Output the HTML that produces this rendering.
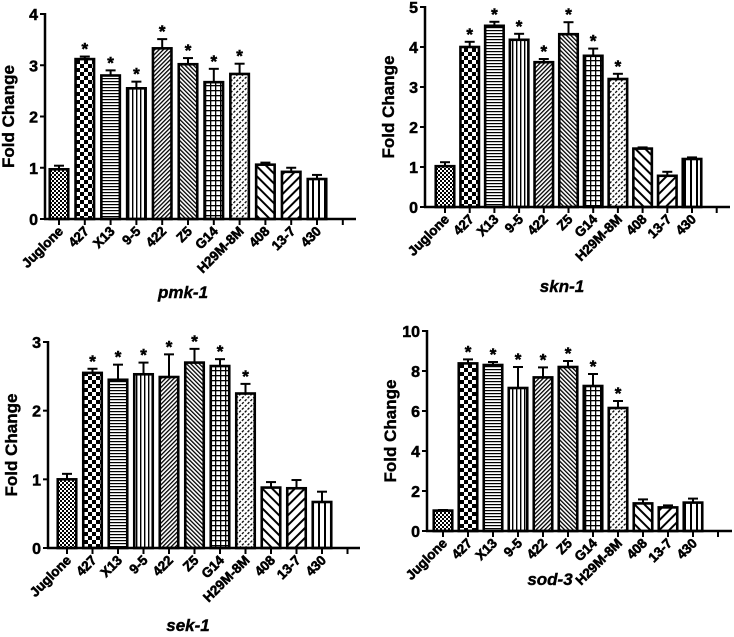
<!DOCTYPE html>
<html><head><meta charset="utf-8">
<style>
html,body{margin:0;padding:0;background:#fff;}
svg{display:block;font-family:"Liberation Sans",Arial,sans-serif;}
svg text{font-weight:bold;}
</style></head>
<body>
<svg id="fig" width="734" height="637" viewBox="0 0 734 637" xmlns="http://www.w3.org/2000/svg">
<defs>
<pattern id="p0" width="4" height="4" patternUnits="userSpaceOnUse"><rect width="4" height="4" fill="#fff"/><rect width="2" height="2" fill="#000"/><rect x="2" y="2" width="2" height="2" fill="#000"/></pattern>
<pattern id="p1" width="8" height="8" patternUnits="userSpaceOnUse"><rect width="8" height="8" fill="#fff"/><rect width="4" height="4" fill="#000"/><rect x="4" y="4" width="4" height="4" fill="#000"/></pattern>
<pattern id="p2" width="4" height="3" patternUnits="userSpaceOnUse"><rect width="4" height="3" fill="#fff"/><rect width="4" height="1.2" fill="#000"/></pattern>
<pattern id="p3" width="4" height="4" patternUnits="userSpaceOnUse"><rect width="4" height="4" fill="#fff"/><rect width="1.4" height="4" fill="#000"/></pattern>
<pattern id="p4" width="3" height="3" patternUnits="userSpaceOnUse" patternTransform="rotate(45)"><rect width="3" height="3" fill="#fff"/><rect width="1.3" height="3" fill="#000"/></pattern>
<pattern id="p5" width="3" height="3" patternUnits="userSpaceOnUse" patternTransform="rotate(-45)"><rect width="3" height="3" fill="#fff"/><rect width="1.3" height="3" fill="#000"/></pattern>
<pattern id="p6" width="5" height="5" patternUnits="userSpaceOnUse"><rect width="5" height="5" fill="#fff"/><rect width="5" height="1.3" fill="#000"/><rect width="1.3" height="5" fill="#000"/></pattern>
<pattern id="p7" width="4" height="4" patternUnits="userSpaceOnUse" patternTransform="rotate(45)"><rect width="4" height="4" fill="#fff"/><rect width="1.3" height="2.5" fill="#000"/></pattern>
<pattern id="p8" width="7" height="7" patternUnits="userSpaceOnUse" patternTransform="rotate(-45)"><rect width="7" height="7" fill="#fff"/><rect width="2" height="7" fill="#000"/></pattern>
<pattern id="p9" width="7" height="7" patternUnits="userSpaceOnUse" patternTransform="rotate(45)"><rect width="7" height="7" fill="#fff"/><rect width="2" height="7" fill="#000"/></pattern>
<pattern id="p10" width="6" height="6" patternUnits="userSpaceOnUse"><rect width="6" height="6" fill="#fff"/><rect width="2" height="6" fill="#000"/></pattern>
</defs>
</svg>
<script>
const categories = ["Juglone","427","X13","9-5","422","Z5","G14","H29M-8M","408","13-7","430"];
const stars = [0,1,1,1,1,1,1,1,0,0,0];
const pmkValues = [0.97,3.12,2.8,2.55,3.33,3.02,2.67,2.83,1.06,0.92,0.78];
const pmkErrors = [0.07,0.05,0.1,0.13,0.18,0.12,0.26,0.2,0.04,0.08,0.08];
const pmkTicks = [0,1,2,3,4];
const sknValues = [1.02,4.0,4.53,4.18,3.62,4.32,3.78,3.2,1.46,0.78,1.2];
const sknErrors = [0.1,0.13,0.1,0.15,0.08,0.3,0.18,0.13,0.03,0.1,0.04];
const sknTicks = [0,1,2,3,4,5];
const sekValues = [1.0,2.55,2.45,2.53,2.49,2.7,2.65,2.25,0.88,0.87,0.67];
const sekErrors = [0.08,0.06,0.22,0.17,0.33,0.2,0.1,0.14,0.08,0.12,0.15];
const sekTicks = [0,1,2,3];
const sodValues = [1.02,8.38,8.3,7.15,7.68,8.2,7.25,6.15,1.38,1.18,1.42];
const sodErrors = [0.03,0.2,0.15,1.05,0.5,0.3,0.6,0.35,0.2,0.1,0.2];
const sodTicks = [0,2,4,6,8,10];

const NS="http://www.w3.org/2000/svg";
const svg=document.getElementById('fig');
function mk(tag,attrs,parent){const e=document.createElementNS(NS,tag);for(const k in attrs)e.setAttribute(k,attrs[k]);(parent||svg).appendChild(e);return e;}

function panel(name,title,values,errors,ticks,g){
  const grp=mk('g',{});
  
  
  const ymax=ticks[ticks.length-1];
  const y=v=>g.y0-(v/ymax)*(g.y0-g.ytop);
  const x=i=>g.c0+i*g.sp;
  const bw=18.5;
  values.forEach((v,i)=>{
    const top=y(v), et=y(v+errors[i]);
    const ln=mk('line',{x1:x(i),x2:x(i),y1:top,y2:et,stroke:'#000','stroke-width':2},grp);
    
    
    const cap=mk('line',{x1:x(i)-5,x2:x(i)+5,y1:et,y2:et,stroke:'#000','stroke-width':2},grp);
    
    
    const r=mk('rect',{x:x(i)-bw/2,y:top,width:bw,height:g.y0-top,fill:'url(#p'+i+')',stroke:'#000','stroke-width':2.6},grp);
    
    
    if(stars[i]){
      const s=mk('text',{x:x(i),y:et-2,'text-anchor':'middle','font-size':17,stroke:'#000','stroke-width':0.5},grp);
      s.textContent='*';
      
      
    }
    const tk=mk('line',{x1:x(i),x2:x(i),y1:g.y0,y2:g.y0+6,stroke:'#000','stroke-width':2},grp);
    
    
    const lx=x(i)+5, ly=g.y0+13;
    const t=mk('text',{x:lx,y:ly,'text-anchor':'end','font-size':13.5,stroke:'#000','stroke-width':0.6,transform:'rotate(-45 '+lx+' '+ly+')'},grp);
    t.textContent=categories[i];
    
    
  });
  const last=x(values.length);
  const tk=mk('line',{x1:last,x2:last,y1:g.y0,y2:g.y0+6,stroke:'#000','stroke-width':2},grp);
  
  
  const xa=mk('line',{x1:g.ax-1,x2:g.xend,y1:g.y0,y2:g.y0,stroke:'#000','stroke-width':2.5},grp);
  
  
  const ya=mk('line',{x1:g.ax,x2:g.ax,y1:g.ytop-1,y2:g.y0,stroke:'#000','stroke-width':2.5},grp);
  
  
  ticks.forEach(t=>{
    const l=mk('line',{x1:g.ax-5,x2:g.ax,y1:y(t),y2:y(t),stroke:'#000','stroke-width':2},grp);
    
    
    const tx=mk('text',{x:g.ax-7,y:y(t)+6,'text-anchor':'end','font-size':16,stroke:'#000','stroke-width':0.5},grp);
    tx.textContent=t;
    
    
  });
  const yl=g.ax-31, ym=(g.y0+g.ytop)/2;
  const yt=mk('text',{x:yl,y:ym,'text-anchor':'middle','font-size':17,stroke:'#000','stroke-width':0.4,transform:'rotate(-90 '+yl+' '+ym+')'},grp);
  yt.textContent='Fold Change';
  
  
  const tt=mk('text',{x:g.tx,y:g.ty,'text-anchor':'middle','font-size':17,'font-style':'italic',stroke:'#000','stroke-width':0.4},grp);
  tt.textContent=title;
  
  
}
panel('pmk-1','pmk-1',pmkValues,pmkErrors,pmkTicks,{ax:45,y0:219,ytop:14,c0:59,sp:25.8,xend:356,tx:183,ty:298});
panel('skn-1','skn-1',sknValues,sknErrors,sknTicks,{ax:425,y0:207,ytop:7,c0:445,sp:24.7,xend:730,tx:562,ty:292});
panel('sek-1','sek-1',sekValues,sekErrors,sekTicks,{ax:48,y0:548,ytop:342,c0:67,sp:25.5,xend:360,tx:188,ty:631});
panel('sod-3','sod-3',sodValues,sodErrors,sodTicks,{ax:427,y0:531,ytop:331,c0:443,sp:25,xend:732,tx:550,ty:585});
</script>
</body></html>
